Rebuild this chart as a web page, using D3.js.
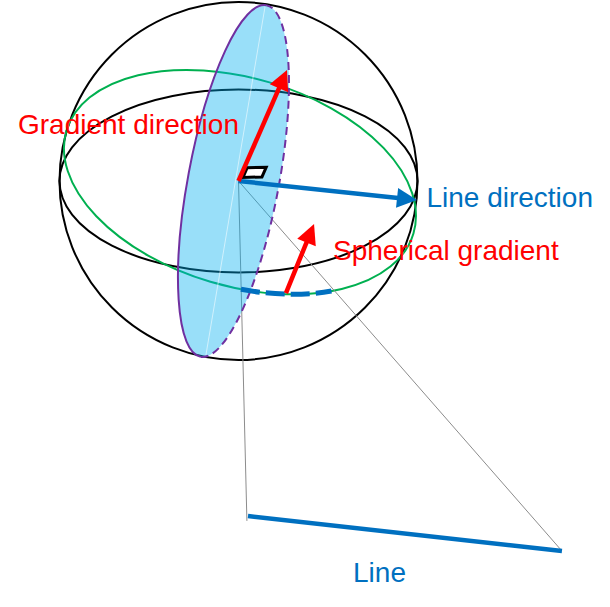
<!DOCTYPE html>
<html>
<head>
<meta charset="utf-8">
<script src="https://cdn.jsdelivr.net/npm/d3@7"></script>
<style>
  body { margin: 0; background: #fff; }
  text { font-family: "Liberation Sans", Arial, sans-serif; font-size: 28px; }
</style>
</head>
<body>
<script>
// geometry in sphere units: centre of sphere = (0,0), radius = 1, y up
var ellipseNames  = ["sphere", "equator", "tilted", "plane"];
var ellipseCentre = [[0, 0], [0, 0], [0.008, -0.006], [-0.028, 0]];
var ellipseRadii  = [[1, 1], [1, 0.511], [1.011, 0.581], [0.254, 0.999]];
var ellipseTilt   = [0, 0, 16.5, 10.6];   // degrees, clockwise on screen

var vectorNames = ["gradient", "lineDirection", "spherical"];
var vectorFrom  = [[0, 0], [0, 0], [0.265, -0.626]];
var vectorTo    = [[0.271, 0.620], [0.997, -0.106], [0.422, -0.240]];

var rayEnds     = [[0.047, -1.899], [1.807, -2.067]];
var lineEnds    = [[0.053, -1.872], [1.807, -2.067]];
var planeAxis   = [[0.148, 0.972], [-0.182, -0.972]];
var arcRange    = [80, 49];               // parameter angles on tilted circle
var rightAngle  = [[0.025, 0.020], [0.059, 0.106]]; // corner, side lengths

var labels  = ["Gradient direction", "Line direction", "Spherical gradient", "Line"];
var labelAt = [[-1.232, 0.263], [1.050, -0.145], [0.528, -0.441], [0.640, -2.240]];

var svg = d3.select("body")
    .append("svg")
    .attr("width", "610")
    .attr("height", "607")
    .style("display", "block");

var x = d3.scaleLinear().domain([-1, 1]).range([59.5, 417.5]);
var y = d3.scaleLinear().domain([-1, 1]).range([360, 2]);
var k = x(1) - x(0);

var red = "#FF0000", blue = "#0070C0";

function ell(i) {
  return {cx: x(ellipseCentre[i][0]), cy: y(ellipseCentre[i][1]),
          rx: ellipseRadii[i][0] * k, ry: ellipseRadii[i][1] * k, tilt: ellipseTilt[i]};
}
// point on ellipse at parameter t (degrees, screen sense)
function onEll(e, t) {
  var a = t * Math.PI / 180, r = e.tilt * Math.PI / 180;
  var lx = e.rx * Math.cos(a), ly = e.ry * Math.sin(a);
  return [e.cx + lx * Math.cos(r) - ly * Math.sin(r), e.cy + lx * Math.sin(r) + ly * Math.cos(r)];
}
function arcPath(e, t0, t1) {
  var p0 = onEll(e, t0), p1 = onEll(e, t1);
  return "M" + p0 + "A" + e.rx + "," + e.ry + "," + e.tilt + ",0,0," + p1;
}
function px(p) { return [x(p[0]), y(p[1])]; }

// sphere, equator, tilted circle
[0, 1, 2].forEach(function(i) {
  var e = ell(i);
  svg.append("ellipse")
      .attr("cx", e.cx).attr("cy", e.cy)
      .attr("rx", e.rx).attr("ry", e.ry)
      .attr("transform", "rotate(" + e.tilt + "," + e.cx + "," + e.cy + ")")
      .attr("fill", "none")
      .attr("stroke", i == 2 ? "#00B050" : "#000")
      .attr("stroke-width", 2);
});

// projection rays
svg.selectAll(".ray")
    .data(rayEnds)
    .enter().append("line")
    .attr("class", "ray")
    .attr("x1", x(0)).attr("y1", y(0))
    .attr("x2", function(d) { return x(d[0]); })
    .attr("y2", function(d) { return y(d[1]); })
    .attr("stroke", "#8c8c8c")
    .attr("stroke-width", 1);

// plane through the gradient
var pl = ell(3);
svg.append("ellipse")
    .attr("cx", pl.cx).attr("cy", pl.cy)
    .attr("rx", pl.rx).attr("ry", pl.ry)
    .attr("transform", "rotate(" + pl.tilt + "," + pl.cx + "," + pl.cy + ")")
    .attr("fill", "#00B0F0")
    .attr("fill-opacity", 0.4);

svg.append("line")
    .attr("x1", x(planeAxis[0][0])).attr("y1", y(planeAxis[0][1]))
    .attr("x2", x(planeAxis[1][0])).attr("y2", y(planeAxis[1][1]))
    .attr("stroke", "#fff")
    .attr("stroke-opacity", 0.55)
    .attr("stroke-width", 1);

svg.append("path")
    .attr("d", arcPath(pl, -90, 90))
    .attr("fill", "none")
    .attr("stroke", "#7030A0")
    .attr("stroke-width", 2);
svg.append("path")
    .attr("d", arcPath(pl, 90, -90))
    .attr("fill", "none")
    .attr("stroke", "#7030A0")
    .attr("stroke-width", 2)
    .attr("stroke-dasharray", "8,5");

// the line
svg.append("line")
    .attr("x1", x(lineEnds[0][0])).attr("y1", y(lineEnds[0][1]))
    .attr("x2", x(lineEnds[1][0])).attr("y2", y(lineEnds[1][1]))
    .attr("stroke", blue)
    .attr("stroke-width", 4.5);

// dashed arc on tilted circle
svg.append("path")
    .attr("d", arcPath(ell(2), arcRange[0], arcRange[1]))
    .attr("fill", "none")
    .attr("stroke", blue)
    .attr("stroke-width", 5)
    .attr("stroke-dasharray", "19,6");

function arrow(i, color, w) {
  var p0 = px(vectorFrom[i]), p1 = px(vectorTo[i]);
  var dx = p1[0] - p0[0], dy = p1[1] - p0[1], len = Math.sqrt(dx * dx + dy * dy);
  var ux = dx / len, uy = dy / len, L = 20, hw = 10;
  var b = [p1[0] - L * ux, p1[1] - L * uy];
  svg.append("line")
      .attr("x1", p0[0]).attr("y1", p0[1])
      .attr("x2", b[0] + ux).attr("y2", b[1] + uy)
      .attr("stroke", color)
      .attr("stroke-width", w);
  svg.append("path")
      .attr("d", "M" + p1 + "L" + [b[0] - hw * uy, b[1] + hw * ux] + "L" + [b[0] + hw * uy, b[1] - hw * ux] + "Z")
      .attr("fill", color);
}

arrow(1, blue, 4.5);

// right angle marker: one side along the gradient, one side horizontal
(function() {
  var o = px(rightAngle[0]);
  var g = px(vectorTo[0]);
  var gu = [g[0] - x(0), g[1] - y(0)], gl = Math.hypot(gu[0], gu[1]);
  var s = rightAngle[1][0] * k, t = rightAngle[1][1] * k;
  var a = [o[0] + s * gu[0] / gl, o[1] + s * gu[1] / gl];
  var c = [o[0] + t, o[1] - 0.5];
  var m = [a[0] + c[0] - o[0], a[1] + c[1] - o[1]];
  svg.append("path")
      .attr("d", "M" + o + "L" + a + "L" + m + "L" + c + "Z")
      .attr("fill", "#fff")
      .attr("stroke", "#000")
      .attr("stroke-width", 3);
})();

arrow(0, red, 4.5);
arrow(2, red, 4.5);

// labels
var labelColor = [red, blue, red, blue];
svg.selectAll(".label")
    .data(labels)
    .enter().append("text")
    .attr("class", "label")
    .attr("x", function(d, i) { return x(labelAt[i][0]); })
    .attr("y", function(d, i) { return y(labelAt[i][1]); })
    .attr("fill", function(d, i) { return labelColor[i]; })
    .text(function(d) { return d; });
</script>
</body>
</html>
